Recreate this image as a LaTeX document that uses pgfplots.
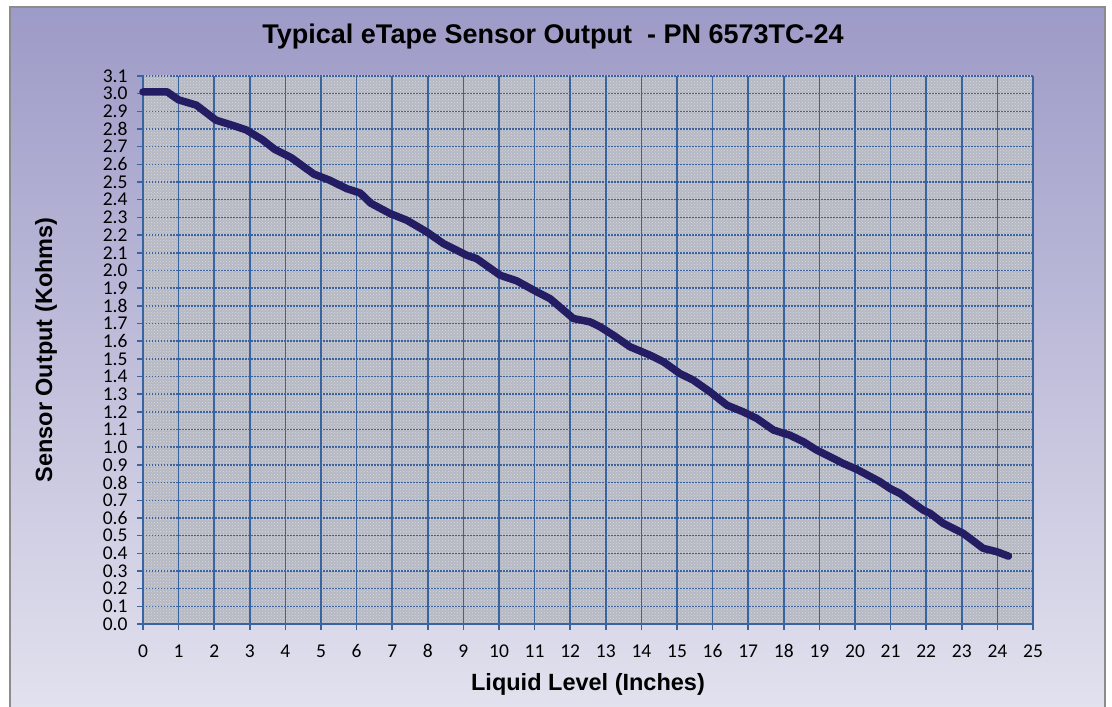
\documentclass[border=0pt]{standalone}
\usepackage{fontspec}
\setmainfont{Carlito}
\newfontfamily\arialf{Liberation Sans}
\usepackage{pgfplots}
\pgfplotsset{compat=1.18}
\usetikzlibrary{patterns}
\definecolor{bgtop}{RGB}{157,155,199}
\definecolor{bgbot}{RGB}{226,225,238}
\definecolor{plotbg}{RGB}{182,184,194}
\definecolor{plotdot}{RGB}{214,217,230}
\definecolor{gridblue}{RGB}{58,100,160}
\definecolor{curve}{RGB}{36,29,100}
\definecolor{framegray}{RGB}{140,140,140}
\newcommand\tickfont{\fontsize{19.5}{23}\selectfont}
\begin{document}
\begin{tikzpicture}[x=1pt,y=1pt]
\useasboundingbox (0,0) rectangle (1112,707);
\fill[white] (0,0) rectangle (1112,707);
\shade[top color=bgtop, bottom color=bgbot] (10,0) rectangle (1105,700);
\draw[framegray, line width=2pt] (10,-2) rectangle (1105,700);
\begin{axis}[
  scale only axis,
  at={(143pt,83pt)}, anchor=south west,
  width=890pt, height=548pt,
  xmin=0, xmax=25, ymin=0, ymax=3.1,
  xtick={0,1,...,25},
  ytick={0,0.1,0.2,0.3,0.4,0.5,0.6,0.7,0.8,0.9,1.0,1.1,1.2,1.3,1.4,1.5,1.6,1.7,1.8,1.9,2.0,2.1,2.2,2.3,2.4,2.5,2.6,2.7,2.8,2.9,3.0,3.1},
  /pgf/number format/assume math mode=true,
  xticklabel={\tickfont\pgfmathprintnumber{\tick}},
  yticklabel={\tickfont\pgfmathprintnumber[fixed,fixed zerofill,precision=1]{\tick}},
  tick label style={text=black},
  xticklabel style={yshift=-11pt},
  yticklabel style={xshift=-6pt},
  tick align=outside, tick pos=left,
  major tick length=6pt,
  tick style={gridblue, line width=1.5pt},
  axis x line*=bottom, axis y line*=left,
  axis line style={gridblue, line width=1.5pt, -},
  grid=major,
  major x grid style={gridblue, line width=1.5pt, solid},
  major y grid style={gridblue, line width=1.5pt, dash pattern=on 1.5pt off 1.5pt},
  axis background/.style={fill=plotbg, postaction={pattern=crosshatch dots, pattern color=plotdot}},
  title={\arialf\bfseries Typical eTape Sensor Output\ \ - PN 6573TC-24},
  title style={font=\fontsize{27}{32}\selectfont, at={(axis description cs:0.4607,1.062)}, anchor=center},
  xlabel={\arialf\bfseries Liquid Level (Inches)},
  xlabel style={font=\fontsize{23.5}{27}\selectfont, at={(axis description cs:0.5,-0.1095)}, anchor=center},
  ylabel={\arialf\bfseries Sensor Output (Kohms)},
  ylabel style={font=\fontsize{23.5}{27}\selectfont, at={(axis description cs:-0.1090,0.5)}, anchor=center},
  clip=false,
]
\addplot[curve, line width=7.5pt, line join=round, line cap=round] coordinates {
(0,3.01) (0.68,3.01) (1.0,2.965) (1.5,2.935) (2.05,2.85) (2.45,2.825) (2.9,2.795)
(3.35,2.74) (3.7,2.685) (4.15,2.64) (4.8,2.545) (5.25,2.51) (5.72,2.463) (6.1,2.438)
(6.4,2.38) (6.94,2.322) (7.41,2.284) (7.97,2.218) (8.44,2.152) (9.09,2.086) (9.37,2.067)
(10.03,1.973) (10.5,1.941) (11.06,1.879) (11.43,1.841) (12.09,1.728) (12.56,1.709)
(12.84,1.681) (13.21,1.634) (13.68,1.568) (14.24,1.521) (14.62,1.483) (15.08,1.417)
(15.46,1.379) (15.93,1.313) (16.4,1.238) (16.86,1.2) (17.24,1.163) (17.71,1.097)
(18.17,1.068) (18.55,1.031) (18.92,0.984) (19.3,0.946) (19.67,0.908) (20.05,0.875)
(20.7,0.805) (20.98,0.767) (21.26,0.739) (21.92,0.644) (22.11,0.626) (22.48,0.569)
(23.04,0.513) (23.6,0.428) (23.98,0.409) (24.31,0.384)
};
\end{axis}
\end{tikzpicture}
\end{document}
